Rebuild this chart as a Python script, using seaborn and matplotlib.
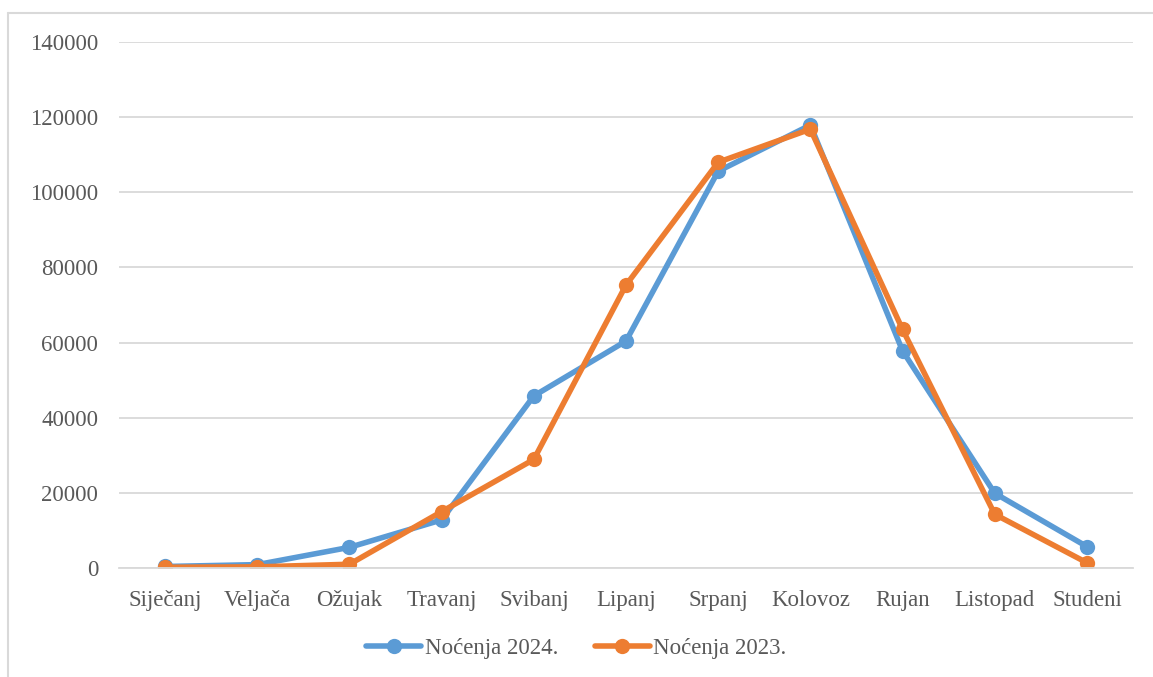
import seaborn as sns
import pandas as pd
import matplotlib.pyplot as plt
from matplotlib.lines import Line2D

months = ["Siječanj", "Veljača", "Ožujak", "Travanj", "Svibanj", "Lipanj",
          "Srpanj", "Kolovoz", "Rujan", "Listopad", "Studeni"]
nocenja_2024 = [400, 900, 5500, 12800, 45800, 60400, 105600, 117900, 57800, 19900, 5700]
nocenja_2023 = [200, 300, 1000, 15000, 28900, 75300, 108000, 116800, 63500, 14300, 1400]
series_names = ["Noćenja 2024.", "Noćenja 2023."]
y_ticks = [0, 20000, 40000, 60000, 80000, 100000, 120000, 140000]

df = pd.DataFrame({
    "x": list(range(len(months))) * 2,
    "value": nocenja_2024 + nocenja_2023,
    "serija": [series_names[0]] * len(months) + [series_names[1]] * len(months),
})

sns.set_style("white")
plt.rcParams['font.family'] = ['Liberation Serif', 'DejaVu Serif']
text_col = "#595959"
grid_col = "#d9d9d9"
palette = {series_names[0]: "#5b9bd5", series_names[1]: "#ed7d31"}

fig = plt.figure(figsize=(11.53, 6.77), dpi=100)
ax = fig.add_axes([119 / 1153, 109 / 677, 1014 / 1153, 526 / 677])

sns.lineplot(data=df, x="x", y="value", hue="serija", hue_order=series_names,
             palette=palette, marker="o", markersize=11, linewidth=4,
             markeredgewidth=0, legend=False, ax=ax)

ax.set_xlim(-0.5, len(months) - 0.5)
ax.set_ylim(0, 140000)
ax.set_yticks(y_ticks)
ax.set_yticklabels([str(t) for t in y_ticks])
ax.set_xticks(range(len(months)))
ax.set_xticklabels(months)
ax.tick_params(axis="both", length=0, labelsize=16.5, colors=text_col)
ax.tick_params(axis="y", pad=15)
ax.tick_params(axis="x", pad=16)
ax.set_xlabel("")
ax.set_ylabel("")
ax.yaxis.grid(True, color=grid_col, linewidth=1.3)
ax.set_axisbelow(True)
for s in ["top", "right", "left"]:
    ax.spines[s].set_visible(False)
ax.spines["bottom"].set_color(grid_col)
ax.spines["bottom"].set_linewidth(1.3)

handles = [Line2D([], [], color=palette[n], marker="o", markersize=11,
                  markeredgewidth=0, linewidth=4) for n in series_names]
fig.legend(handles, series_names, loc="center", bbox_to_anchor=(0.5, 1 - 648 / 677),
           ncol=2, frameon=False, fontsize=16.5, handlelength=2.4,
           handletextpad=0.15, columnspacing=1.6, labelcolor=text_col)

# chart border (cropped on the right and bottom)
fig.add_artist(Line2D([8 / 1153, 1], [1 - 13 / 677, 1 - 13 / 677], color=grid_col,
                      linewidth=1.5, transform=fig.transFigure))
fig.add_artist(Line2D([8 / 1153, 8 / 1153], [0, 1 - 13 / 677], color=grid_col,
                      linewidth=1.5, transform=fig.transFigure))

fig.savefig("out.png", dpi=100)
